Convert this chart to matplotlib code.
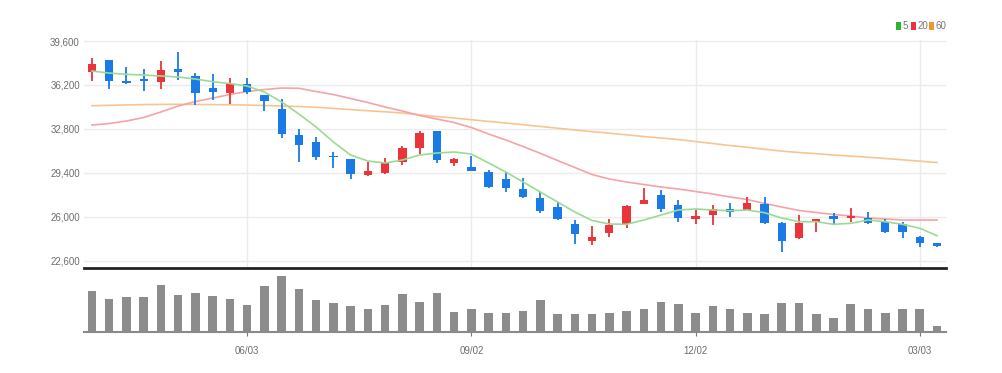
import matplotlib
matplotlib.use("Agg")
import matplotlib.pyplot as plt
from matplotlib.patches import Rectangle
import numpy as np

# ---- data (weekly candles) ----
opens  = [37180,38130,36500,36640,36450,37430,36910,35940,35600,36250,
          35420,34310,32320,31760,30680,30440,29210,29410,30260,31340,
          32630,30130,29820,29480,28920,28150,27420,26780,25440,24140,
          24720,25440,26980,27680,26910,25820,26130,26600,26520,26980,
          25540,24330,25610,26080,25880,25920,25570,25410,24450,23990]
highs  = [38310,38150,37610,37410,38080,38730,37100,37020,36710,36710,
          35450,35110,32790,32150,31030,30460,30210,30520,31470,32660,
          32660,30570,30700,29620,29440,28970,28010,27160,25750,25280,
          25850,26910,28200,28070,27290,26520,26910,27040,27500,27550,
          25560,26130,25840,26260,26650,26340,25800,25610,24470,24000]
lows   = [36500,35890,36270,35750,35860,36580,34650,35030,34700,35470,
          34180,32070,30260,30390,29750,28900,29180,29280,30000,30850,
          30180,29930,29540,28250,27940,27480,26310,25780,23890,23810,
          24410,25100,26960,26390,25610,25440,25360,26000,26500,25470,
          23290,24310,24840,25440,25610,25470,24720,24330,23680,23680]
closes = [37800,36530,36350,36530,37360,37220,35600,35630,36270,35630,
          34960,32380,31550,30600,30620,29280,29520,30180,31300,32460,
          30390,30440,29560,28280,28200,27500,26470,25800,24640,24410,
          25360,26830,27290,26570,25920,26080,26570,26390,27040,25490,
          24140,25490,25820,25800,26060,25490,24840,24790,23990,23720]
ma5  = [37278,37123,37023,36968,36891,36814,36659,36450,36310,36117,
        35653,34879,33950,32944,31783,30776,30312,30157,30389,30776,
        30931,31009,30854,30157,29461,28687,27913,27139,26365,25707,
        25436,25413,25745,26132,26519,26597,26519,26465,26519,26310,
        25900,25614,25614,25413,25490,25745,25614,25413,25103,24530]
ma20 = [33098,33214,33408,33679,34105,34569,34917,35188,35459,35691,
        35846,35962,35939,35691,35459,35149,34840,34492,34182,33834,
        33563,33292,32905,32402,31937,31434,30908,30351,29809,29267,
        28919,28687,28493,28300,28145,27951,27758,27526,27332,27022,
        26752,26481,26326,26171,26055,25900,25823,25745,25745,25745]
ma60 = [34592,34623,34654,34677,34693,34701,34693,34677,34662,34646,
        34608,34569,34530,34476,34383,34290,34205,34120,34027,33888,
        33749,33640,33509,33377,33253,33122,32990,32851,32711,32588,
        32464,32340,32208,32092,31976,31821,31666,31512,31372,31225,
        31078,30970,30877,30776,30691,30606,30505,30405,30297,30196]
volumes = [1230,1000,1050,1050,1400,1120,1180,1090,990,800,
           1370,1670,1290,950,880,780,700,800,1150,910,
           1160,600,700,580,580,630,950,530,530,550,
           580,630,680,900,850,580,780,680,580,530,
           880,880,530,430,850,680,580,700,680,180]
y_ticks = [22600, 26000, 29400, 32800, 36200, 39600]
x_tick_idx = [9, 22, 35, 48]
x_tick_labels = ["06/03", "09/02", "12/02", "03/03"]
ma_labels = ["5", "20", "60"]

# ---- style ----
UP = "#e8343a"
DOWN = "#1a7be6"
plt.rcParams["font.family"] = ["Liberation Sans Narrow", "Liberation Sans", "DejaVu Sans"]

W, H = 1003, 373
fig = plt.figure(figsize=(W / 100, H / 100), dpi=100)
L, R = 84 / W, 946 / W
ax = fig.add_axes([L, 1 - 268 / H, R - L, (268 - 40) / H])
axv = fig.add_axes([L, 1 - 332 / H, R - L, (332 - 270) / H], sharex=ax)

n = len(opens)
x = np.arange(n)
o = np.array(opens); c = np.array(closes); h = np.array(highs); lo = np.array(lows)
cols = [UP if cc > oo else DOWN for oo, cc in zip(o, c)]

ax.vlines(x, lo, h, colors=cols, linewidth=1.3, zorder=3)
body_b = np.minimum(o, c)
body_h = np.maximum(np.abs(c - o), 60)
ax.bar(x, body_h, bottom=body_b, width=0.48, color=cols, linewidth=0, zorder=4)

ax.plot(x, ma60, color="#f7c592", lw=1.2, zorder=2)
ax.plot(x, ma20, color="#f4a3a6", lw=1.2, zorder=2)
ax.plot(x, ma5, color="#9adb93", lw=1.2, zorder=5)

ax.set_xlim(-0.46, 49.52)
ax.set_ylim(22030, 39680)
ax.set_yticks(y_ticks)
ax.set_yticklabels([f"{v:,}" for v in y_ticks])
ax.tick_params(axis="y", length=0, pad=3, labelsize=7, labelcolor="#6e6e6e")
ax.tick_params(axis="x", length=0, labelbottom=False)
ax.set_xticks(x_tick_idx)
ax.grid(True, color="#ebebeb", lw=1)
ax.set_axisbelow(True)
for s in ["top", "left", "right"]:
    ax.spines[s].set_visible(False)
ax.spines["bottom"].set_color("#222222")
ax.spines["bottom"].set_linewidth(2)

# volume
axv.bar(x, volumes, width=0.5, color="#8c8c8c", linewidth=0)
axv.set_ylim(0, 1860)
axv.set_yticks([])
axv.set_xticks(x_tick_idx)
axv.set_xticklabels(x_tick_labels)
axv.tick_params(axis="x", length=3, color="#777777", labelsize=7, labelcolor="#6e6e6e", pad=7)
for s in ["top", "left", "right"]:
    axv.spines[s].set_visible(False)
axv.spines["bottom"].set_color("#8a8a8a")
axv.spines["bottom"].set_linewidth(1.5)

# legend
leg_cols = ["#2db52d", "#e8343a", "#f39537"]
sq_x = [896, 911, 929]
for sx, lc, lab in zip(sq_x, leg_cols, ma_labels):
    fig.patches.append(Rectangle((sx / W, 1 - 30 / H), 5 / W, 8 / H,
                                 transform=fig.transFigure, color=lc, linewidth=0))
    fig.text((sx + 6.5) / W, 1 - 26 / H, lab, color="#777777", fontsize=7,
             va="center", ha="left")

fig.savefig("out.png", dpi=100, facecolor="white")
